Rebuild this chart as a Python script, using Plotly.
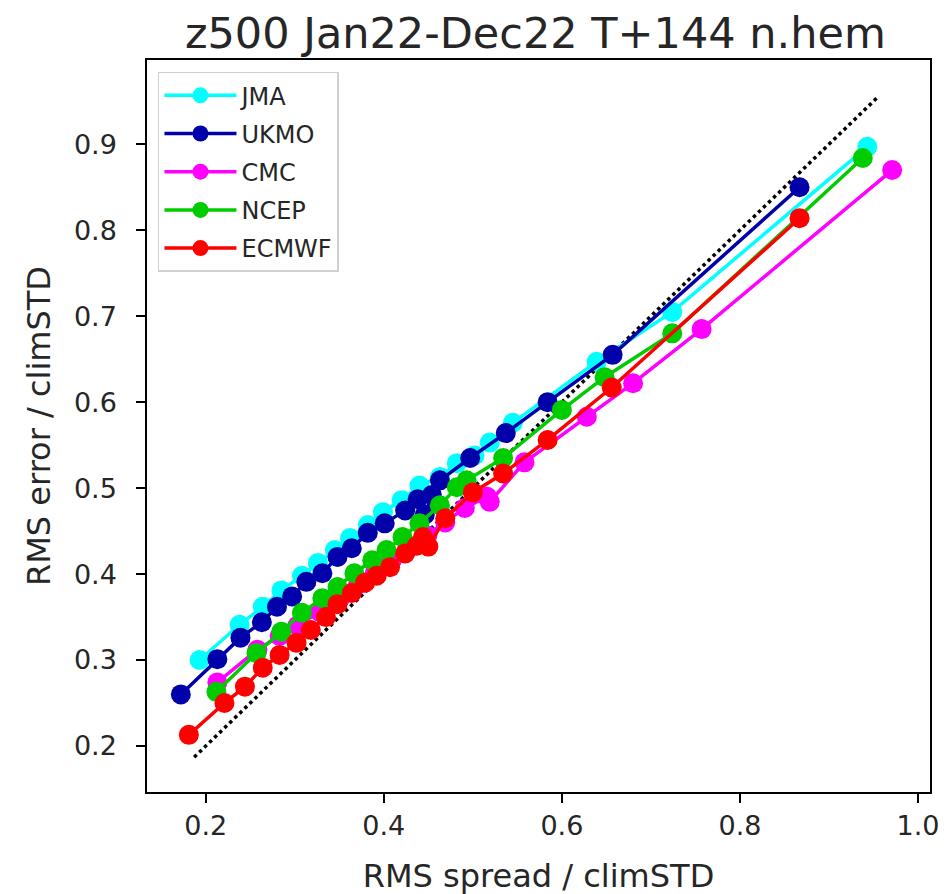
import plotly.graph_objects as go

title = "z500 Jan22-Dec22 T+144 n.hem"

jma_x = [0.193, 0.238, 0.264, 0.285, 0.308, 0.326, 0.345, 0.362, 0.382, 0.399, 0.420, 0.440, 0.463, 0.482, 0.502, 0.519, 0.545, 0.639, 0.724, 0.943]
jma_y = [0.300, 0.341, 0.362, 0.381, 0.398, 0.413, 0.428, 0.442, 0.457, 0.472, 0.486, 0.503, 0.513, 0.529, 0.538, 0.553, 0.576, 0.647, 0.705, 0.897]

ukmo_x = [0.172, 0.213, 0.239, 0.263, 0.280, 0.297, 0.313, 0.331, 0.348, 0.364, 0.382, 0.401, 0.424, 0.438, 0.446, 0.454, 0.463, 0.497, 0.537, 0.584, 0.657, 0.867]
ukmo_y = [0.260, 0.301, 0.326, 0.344, 0.362, 0.374, 0.391, 0.401, 0.420, 0.430, 0.448, 0.459, 0.474, 0.487, 0.469, 0.492, 0.509, 0.535, 0.564, 0.600, 0.655, 0.850]

cmc_x = [0.213, 0.258, 0.283, 0.303, 0.328, 0.351, 0.371, 0.390, 0.409, 0.429, 0.449, 0.469, 0.491, 0.516, 0.519, 0.558, 0.628, 0.680, 0.757, 0.971]
cmc_y = [0.274, 0.312, 0.328, 0.340, 0.356, 0.372, 0.388, 0.402, 0.416, 0.431, 0.445, 0.460, 0.477, 0.490, 0.484, 0.530, 0.583, 0.622, 0.685, 0.870]

ncep_x = [0.212, 0.257, 0.285, 0.308, 0.331, 0.348, 0.367, 0.387, 0.403, 0.421, 0.440, 0.463, 0.482, 0.493, 0.534, 0.600, 0.648, 0.724, 0.938]
ncep_y = [0.263, 0.308, 0.333, 0.355, 0.372, 0.385, 0.401, 0.416, 0.428, 0.443, 0.459, 0.480, 0.501, 0.509, 0.535, 0.591, 0.629, 0.680, 0.884]

ecmwf_x = [0.181, 0.221, 0.244, 0.264, 0.283, 0.302, 0.318, 0.335, 0.348, 0.364, 0.379, 0.392, 0.407, 0.424, 0.437, 0.444, 0.450, 0.469, 0.500, 0.534, 0.584, 0.656, 0.867]
ecmwf_y = [0.213, 0.250, 0.269, 0.291, 0.306, 0.320, 0.335, 0.350, 0.365, 0.378, 0.390, 0.398, 0.408, 0.424, 0.433, 0.443, 0.432, 0.465, 0.495, 0.517, 0.556, 0.617, 0.814]

diag = [0.187, 0.956]

series = [
    ("JMA", jma_x, jma_y, "#00ffff"),
    ("UKMO", ukmo_x, ukmo_y, "#0000aa"),
    ("CMC", cmc_x, cmc_y, "#ff00ff"),
    ("NCEP", ncep_x, ncep_y, "#00cc00"),
    ("ECMWF", ecmwf_x, ecmwf_y, "#ff0000"),
]

fig = go.Figure()
fig.add_trace(go.Scatter(x=diag, y=diag, mode="lines", showlegend=False,
                         line=dict(color="black", width=3.5, dash="dot")))
for name, xs, ys, col in series:
    fig.add_trace(go.Scatter(x=xs, y=ys, mode="lines+markers", name=name,
                             legendgroup=name,
                             line=dict(color=col, width=3.5),
                             marker=dict(color=col, size=20)))

axis_common = dict(showline=True, linecolor="black", linewidth=1.5, mirror=True,
                   ticks="outside", ticklen=9, tickwidth=1.5, tickcolor="black",
                   showgrid=False, zeroline=False,
                   tickfont=dict(family="DejaVu Sans", size=27, color="#262626"))

fig.update_layout(
    width=952, height=894,
    margin=dict(l=139, r=30, t=52, b=110),
    plot_bgcolor="white", paper_bgcolor="white",
    title=dict(text=title, x=0.554, xanchor="center", y=0.972, yanchor="middle",
               font=dict(family="DejaVu Sans", size=43, color="#262626")),
    xaxis=dict(range=[0.134, 1.0135], tickvals=[0.2, 0.4, 0.6, 0.8, 1.0],
               ticktext=["0.2", "0.4", "0.6", "0.8", "1.0"],
               title=dict(text="RMS spread / climSTD", standoff=24,
                          font=dict(family="DejaVu Sans", size=32, color="#262626")),
               **axis_common),
    yaxis=dict(range=[0.1465, 0.998], tickvals=[0.2, 0.3, 0.4, 0.5, 0.6, 0.7, 0.8, 0.9],
               ticktext=["0.2", "0.3", "0.4", "0.5", "0.6", "0.7", "0.8", "0.9"],
               ticklabelstandoff=14,
               title=dict(text="RMS error / climSTD", standoff=14,
                          font=dict(family="DejaVu Sans", size=32, color="#262626")),
               **axis_common),
    legend=dict(x=0.014, y=0.984, xanchor="left", yanchor="top",
                bgcolor="rgba(255,255,255,0.8)", bordercolor="#d0d0d0", borderwidth=1.5,
                font=dict(family="DejaVu Sans", size=24, color="#262626"),
                itemwidth=72, tracegroupgap=4),
)

fig.write_html("out.html")
